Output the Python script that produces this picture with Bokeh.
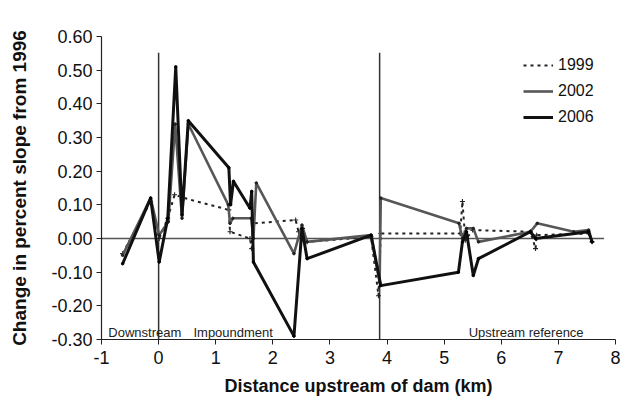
from bokeh.plotting import figure
from bokeh.models import (Legend, LegendItem, Label, FixedTicker, NumeralTickFormatter,
                          Range1d, ColumnDataSource)
from bokeh.embed import file_html
from bokeh.resources import INLINE

# ---------------- data ----------------
x1999 = [-0.63, -0.14, 0.01, 0.16, 0.28, 0.45, 1.23, 1.25, 1.60, 1.63, 1.66, 2.40, 2.45,
         2.52, 2.60, 3.72, 3.85, 3.89, 5.28, 5.32, 5.37, 5.50, 6.51, 6.60, 6.62, 7.53, 7.59]
y1999 = [-0.045, 0.11, 0.0, 0.06, 0.13, 0.12, 0.085, 0.02, 0.0, -0.03, 0.045, 0.055, 0.02,
         0.03, -0.01, 0.005, -0.17, 0.015, 0.015, 0.11, -0.005, 0.025, 0.02, -0.03, 0.01,
         0.015, -0.01]

x2002 = [-0.63, -0.14, 0.01, 0.17, 0.29, 0.41, 0.52, 1.22, 1.25, 1.30, 1.62, 1.66, 1.71,
         2.37, 2.51, 2.60, 3.72, 3.87, 3.89, 5.26, 5.32, 5.39, 5.51, 5.60, 6.51, 6.63, 7.27,
         7.53, 7.59]
y2002 = [-0.05, 0.12, 0.01, 0.05, 0.34, 0.06, 0.34, 0.10, 0.045, 0.06, 0.06, 0.0, 0.165,
         -0.045, 0.04, -0.01, 0.01, -0.13, 0.12, 0.045, 0.0, 0.03, 0.03, -0.01, 0.02, 0.045,
         0.02, 0.025, -0.01]

x2006 = [-0.63, -0.14, 0.01, 0.16, 0.30, 0.41, 0.52, 1.23, 1.26, 1.31, 1.60, 1.63, 1.66,
         2.37, 2.51, 2.60, 3.72, 3.89, 5.25, 5.32, 5.39, 5.51, 5.60, 6.51, 6.60, 7.53, 7.59]
y2006 = [-0.075, 0.12, -0.07, 0.06, 0.51, 0.07, 0.35, 0.21, 0.10, 0.17, 0.09, 0.14, -0.07,
         -0.29, 0.03, -0.06, 0.01, -0.14, -0.10, -0.01, 0.02, -0.11, -0.06, 0.02, 0.00,
         0.02, -0.01]

series_names = ["1999", "2002", "2006"]
boundaries = [0.0, 3.87]        # dam and start of upstream reference (km)
boundary_top = 0.552
zero_line_x = [-1.0, 7.8]
x_ticks = [-1, 0, 1, 2, 3, 4, 5, 6, 7, 8]
y_ticks = [-0.3, -0.2, -0.1, 0.0, 0.1, 0.2, 0.3, 0.4, 0.5, 0.6]
region_labels = ["Downstream", "Impoundment", "Upstream reference"]
region_label_x = [-0.88, 0.61, 5.43]
region_label_y = -0.28

FONT = "Liberation Sans"

p = figure(width=634, height=409, output_backend="svg", toolbar_location=None,
           x_range=Range1d(-1, 8), y_range=Range1d(-0.3, 0.6),
           min_border_left=101, min_border_right=19, min_border_top=36,
           min_border_bottom=70)
p.outline_line_color = None
p.xgrid.visible = False
p.ygrid.visible = False
p.background_fill_color = "white"
p.border_fill_color = "white"

# axes
for ax in (p.xaxis[0], p.yaxis[0]):
    ax.axis_line_color = "#222222"
    ax.axis_line_width = 1.2
    ax.major_tick_line_color = "#222222"
    ax.major_tick_out = 5
    ax.major_tick_in = 0
    ax.minor_tick_line_color = None
    ax.major_label_text_font = FONT
    ax.major_label_text_font_size = "18px"
    ax.major_label_text_color = "#111111"
    ax.axis_label_text_font = FONT
    ax.axis_label_text_font_style = "bold"
    ax.axis_label_text_color = "#111111"

p.xaxis.axis_label_text_font_size = "18px"
p.yaxis.axis_label_text_font_size = "19px"
p.xaxis.ticker = FixedTicker(ticks=x_ticks)
p.yaxis.ticker = FixedTicker(ticks=y_ticks)
p.xaxis.formatter = NumeralTickFormatter(format="0")
p.yaxis.formatter = NumeralTickFormatter(format="0.00")
p.xaxis.axis_label = "Distance upstream of dam (km)"
p.yaxis.axis_label = "Change in percent slope from 1996"
p.xaxis.major_label_standoff = 6
p.xaxis.axis_label_standoff = 9
p.yaxis.major_label_standoff = 4
p.yaxis.axis_label_standoff = 18

# reference lines
p.segment(x0=boundaries, x1=boundaries, y0=[-0.3] * len(boundaries),
          y1=[boundary_top] * len(boundaries), line_color="#333333", line_width=1.5)
p.line(x=zero_line_x, y=[0, 0], line_color="#555555", line_width=1.5)

# series
s99 = ColumnDataSource(dict(x=x1999, y=y1999))
s02 = ColumnDataSource(dict(x=x2002, y=y2002))
s06 = ColumnDataSource(dict(x=x2006, y=y2006))

l99 = p.line("x", "y", source=s99, line_color="#222222", line_width=2, line_dash="3 4")
m99 = p.scatter("x", "y", source=s99, marker="cross", size=5, line_color="#222222",
                line_width=1.1)
l02 = p.line("x", "y", source=s02, line_color="#575757", line_width=2.6)
m02 = p.scatter("x", "y", source=s02, marker="circle", size=2.5, fill_color="#222222",
                line_color="#222222")
l06 = p.line("x", "y", source=s06, line_color="#111111", line_width=3)
m06 = p.scatter("x", "y", source=s06, marker="circle", size=2.5, fill_color="#000000",
                line_color="#000000")

legend = Legend(items=[
    LegendItem(label=series_names[0], renderers=[l99]),
    LegendItem(label=series_names[1], renderers=[l02]),
    LegendItem(label=series_names[2], renderers=[l06]),
], location=(422, 213))
legend.label_text_font = FONT
legend.label_text_font_size = "16px"
legend.label_text_color = "#111111"
legend.glyph_width = 30
legend.glyph_height = 18
legend.label_height = 18
legend.label_standoff = 5
legend.spacing = 8
legend.padding = 5
legend.margin = 0
legend.border_line_color = None
legend.background_fill_alpha = 0
p.add_layout(legend, "center")

for txt, xx in zip(region_labels, region_label_x):
    p.add_layout(Label(x=xx, y=region_label_y, text=txt, text_font=FONT,
                       text_font_size="13px", text_color="#222222",
                       text_baseline="alphabetic", text_align="left"))

open("out.html", "w").write(file_html(p, INLINE))
